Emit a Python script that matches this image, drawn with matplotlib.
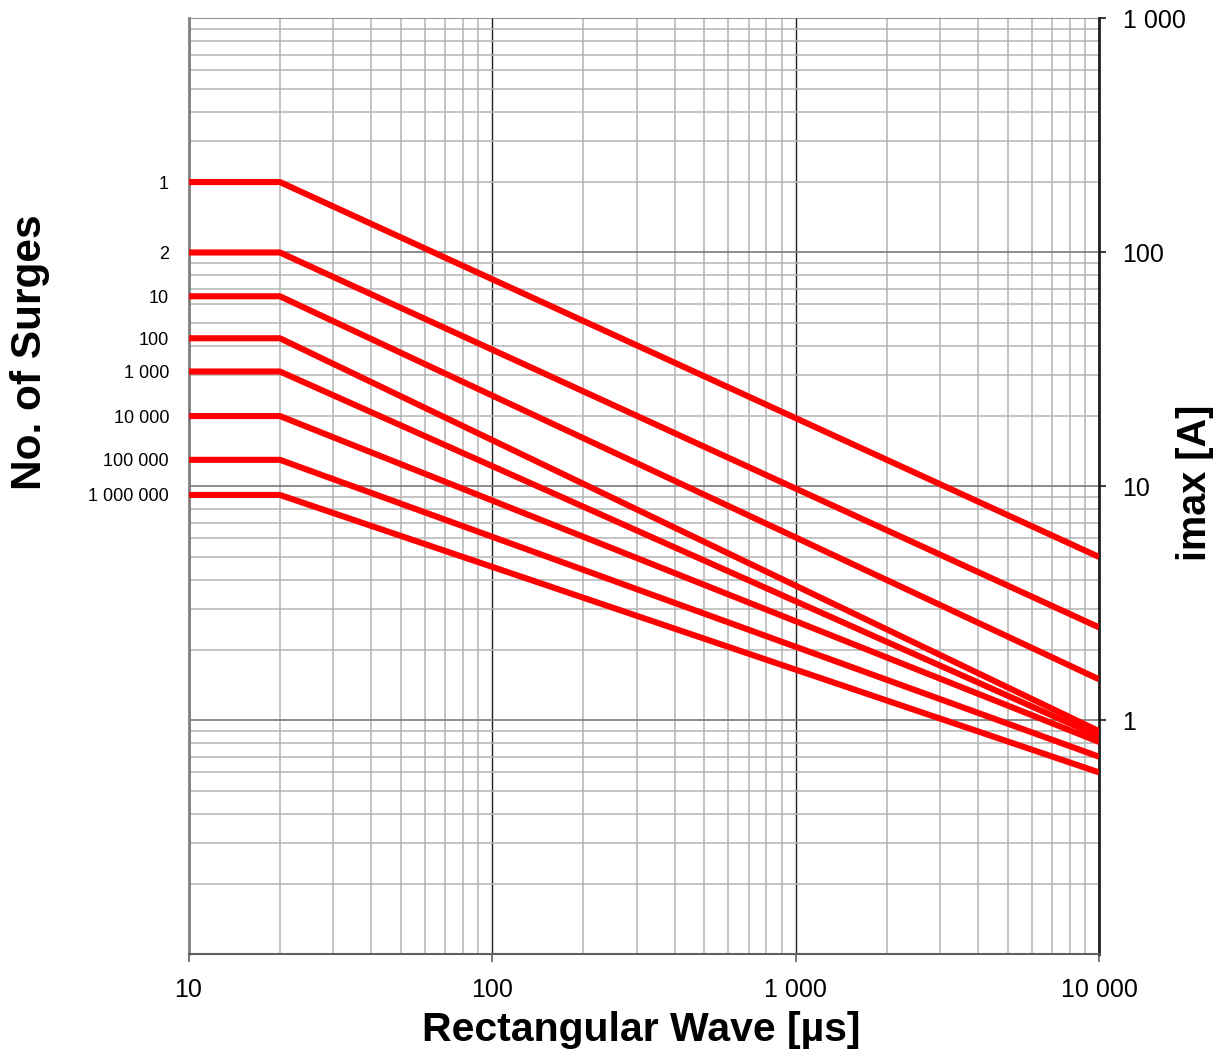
import numpy as np
import matplotlib.pyplot as plt
from matplotlib.ticker import FixedLocator, LogLocator, FuncFormatter, NullFormatter

plt.rcParams['font.family'] = ['Liberation Sans', 'DejaVu Sans']

# 数据：每条曲线对应的冲击次数、起点电流和终点电流
surges = ['1', '2', '10', '100', '1 000', '10 000', '100 000', '1 000 000']
i_start = [200, 100, 65, 43, 31, 20, 13, 9.2]
i_end = [5, 2.5, 1.5, 0.90, 0.855, 0.81, 0.70, 0.60]
t_points = [10, 20, 10000]
x_ticks = [10, 100, 1000, 10000]
y_ticks = [1, 10, 100, 1000]


def fmt_space(v, pos=None):
    return f'{v:,.0f}'.replace(',', ' ')


fig = plt.figure(figsize=(12.26, 10.57), dpi=100)
ax = fig.add_axes([0.1538, 0.0970, 0.7426, 0.8855])

for s, a, b in zip(surges, i_start, i_end):
    ax.plot(t_points, [a, a, b], color='#ff0000', linewidth=4.4,
            solid_capstyle='butt', zorder=3)

ax.set_xscale('log')
ax.set_yscale('log')
ax.set_xlim(10, 10000)
ax.set_ylim(0.1, 1000)

# 网格
ax.xaxis.set_major_locator(FixedLocator(x_ticks))
ax.xaxis.set_minor_locator(LogLocator(base=10, subs=np.arange(2, 10)))
ax.yaxis.set_major_locator(FixedLocator(y_ticks))
ax.yaxis.set_minor_locator(LogLocator(base=10, subs=np.arange(2, 10)))
ax.xaxis.set_major_formatter(FuncFormatter(fmt_space))
ax.xaxis.set_minor_formatter(NullFormatter())
ax.yaxis.set_major_formatter(FuncFormatter(fmt_space))
ax.yaxis.set_minor_formatter(NullFormatter())

ax.grid(True, which='minor', color='#b4b4b4', linewidth=1.1)
ax.grid(True, which='major', axis='y', color='#7a7a7a', linewidth=1.2)
ax.grid(True, which='major', axis='x', color='#202020', linewidth=1.0)
ax.set_axisbelow(True)

# 右侧电流坐标
ax.yaxis.tick_right()
ax.tick_params(axis='y', which='major', direction='out', length=5, width=1.5,
               color='#404040', labelsize=18, pad=12)
ax.tick_params(axis='y', which='minor', length=0)
ax.tick_params(axis='x', which='major', direction='out', length=6, width=1.2,
               color='#606060', labelsize=18, pad=11)
ax.tick_params(axis='x', which='minor', length=0)

ax.spines['top'].set_visible(False)
ax.spines['left'].set_color('#808080')
ax.spines['left'].set_linewidth(2)
ax.spines['bottom'].set_color('#606060')
ax.spines['bottom'].set_linewidth(1.5)
ax.spines['right'].set_color('#202020')
ax.spines['right'].set_linewidth(2)

# 左侧冲击次数标签
sec = ax.secondary_yaxis('left')
sec.set_yticks(i_start)
sec.set_yticklabels(surges)
sec.tick_params(axis='y', which='both', length=0, labelsize=13, pad=14)
sec.yaxis.set_minor_locator(FixedLocator([]))
sec.spines['left'].set_visible(False)

fig.text(0.523, 0.026, 'Rectangular Wave [µs]', ha='center', va='center',
         fontsize=29.5, fontweight='bold')
fig.text(0.0245, 0.667, 'No. of Surges', ha='center', va='center',
         rotation=90, fontsize=30.5, fontweight='bold')
fig.text(0.975, 0.543, 'imax [A]', ha='center', va='center',
         rotation=90, fontsize=28.5, fontweight='bold')

fig.savefig('out.png', dpi=100)
